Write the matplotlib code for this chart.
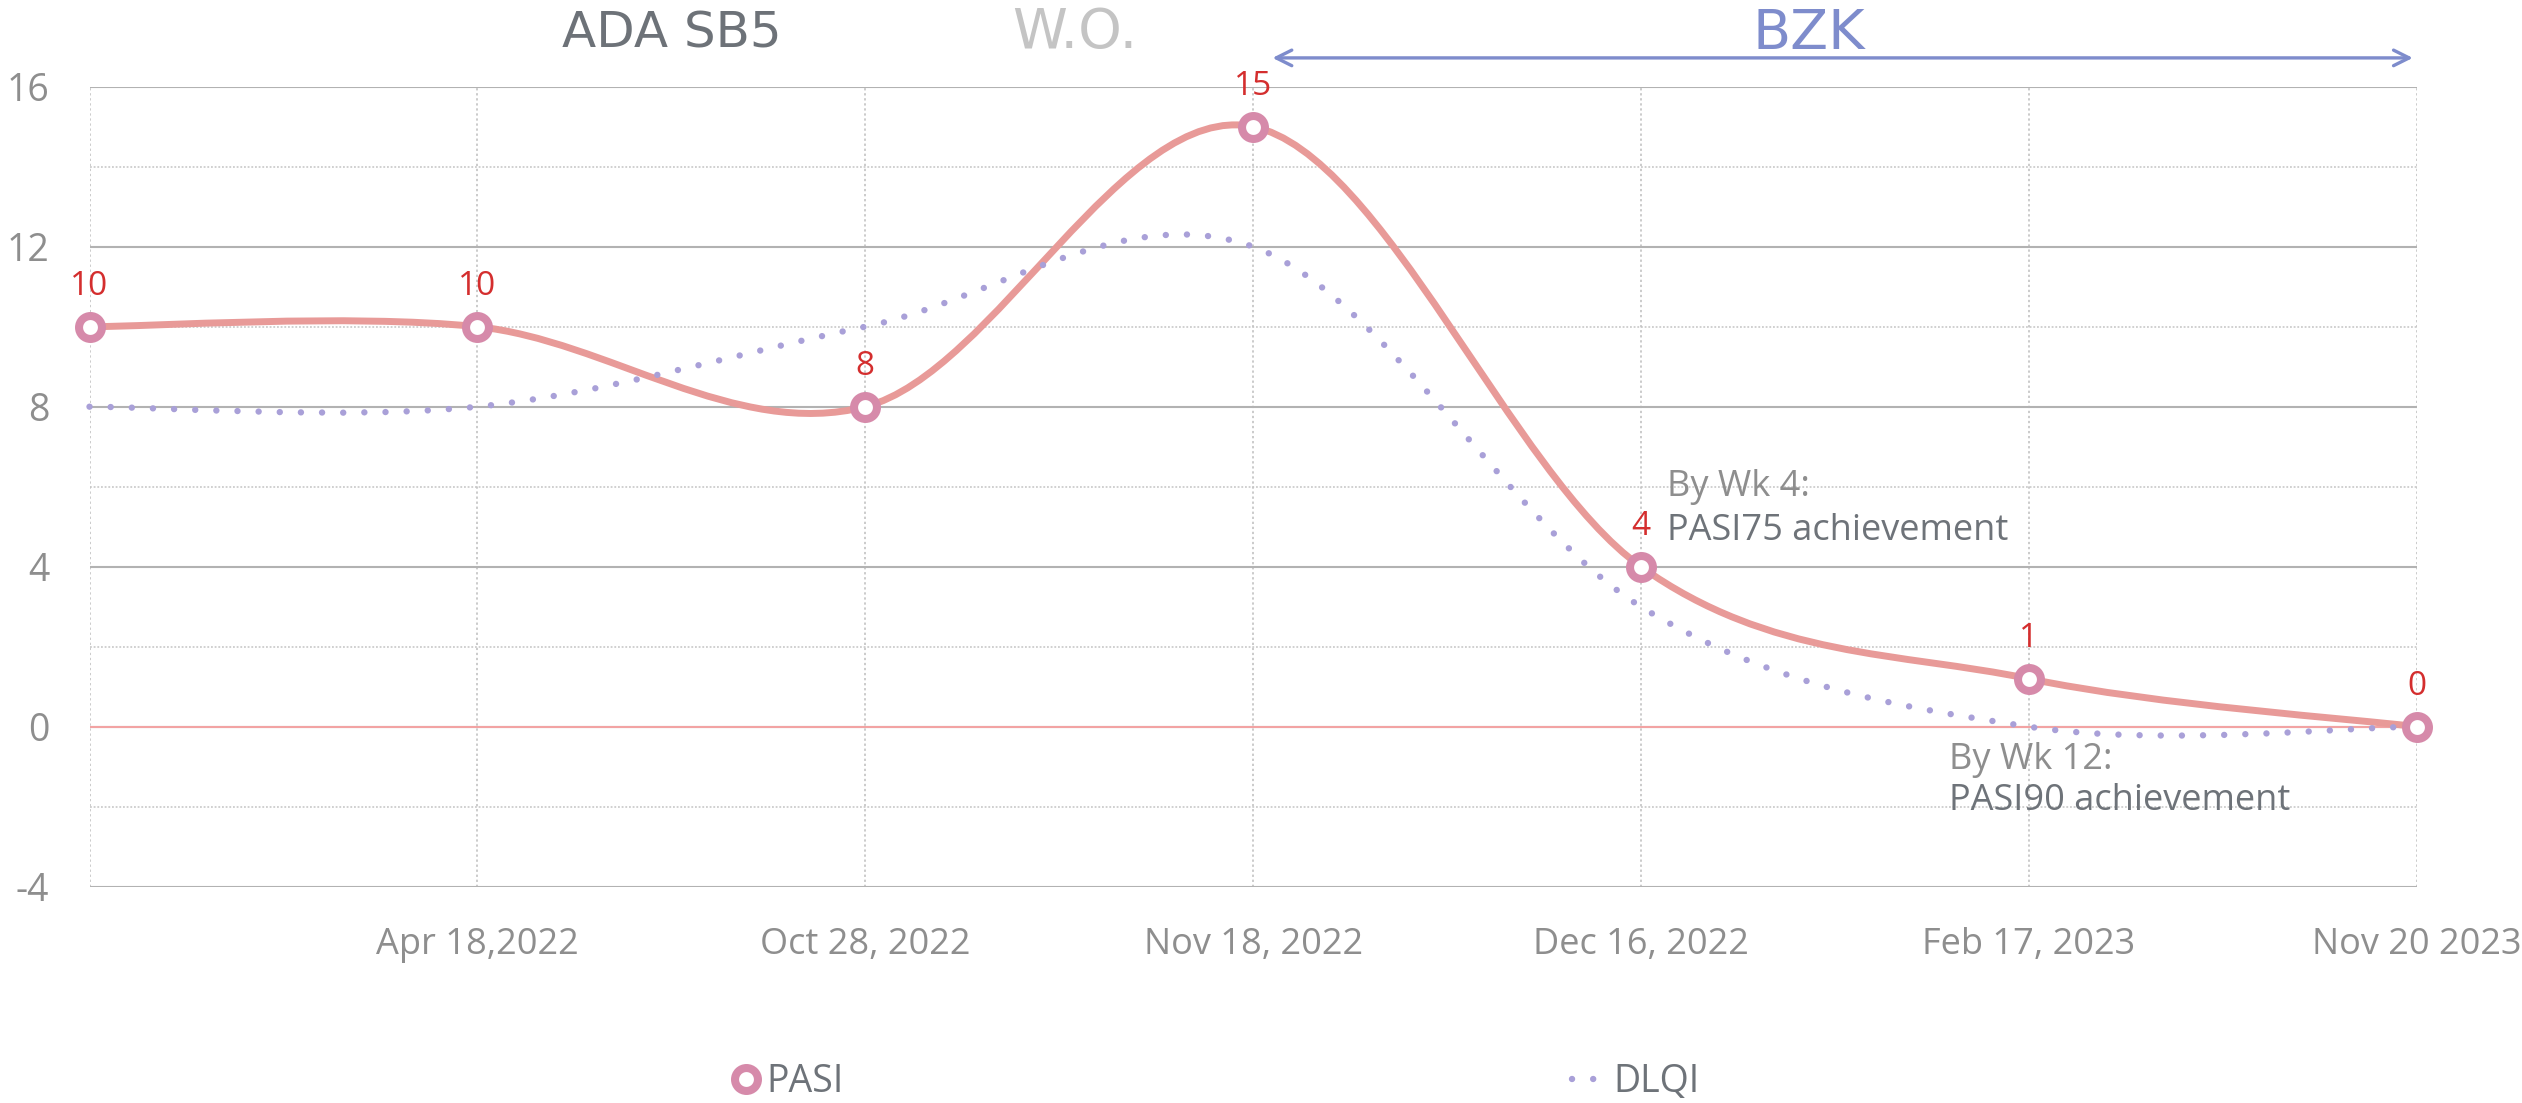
import numpy as np
import matplotlib
matplotlib.use("Agg")
import matplotlib.pyplot as plt
from matplotlib.path import Path
from matplotlib.patches import PathPatch
from matplotlib.lines import Line2D

# data
categories = ["", "Apr 18,2022", "Oct 28, 2022", "Nov 18, 2022",
              "Dec 16, 2022", "Feb 17, 2023", "Nov 20 2023"]
pasi = [10, 10, 8, 15, 4, 1.2, 0]
dlqi = [8, 8, 10, 12, 3, 0, 0]
y_ticks = [-4, 0, 4, 8, 12, 16]

plt.rcParams['font.family'] = ['Open Sans', 'DejaVu Sans']
plt.rcParams['axes.unicode_minus'] = False

grey_tick = '#8E8E8E'
pasi_line = '#E89A98'
pasi_mark = '#D68AAA'
dlqi_col = '#A9A0D8'
red_lbl = '#D42E2E'
bzk_col = '#7E8CCC'


def smooth_path(xs, ys):
    # Excel-style smoothed line (Catmull-Rom as cubic Bezier)
    pts = np.column_stack([xs, ys]).astype(float)
    n = len(pts)
    verts = [pts[0]]
    codes = [Path.MOVETO]
    for i in range(n - 1):
        p0 = pts[max(i - 1, 0)]
        p1 = pts[i]
        p2 = pts[i + 1]
        p3 = pts[min(i + 2, n - 1)]
        verts += [p1 + (p2 - p0) / 6, p2 - (p3 - p1) / 6, p2]
        codes += [Path.CURVE4] * 3
    return Path(verts, codes)


fig = plt.figure(figsize=(25.22, 11.03), dpi=100)
ax = fig.add_axes([89.5 / 2522, 1 - 886.7 / 1103, (2416.7 - 89.5) / 2522, (886.7 - 86.7) / 1103])

x = np.arange(len(categories))
ax.set_xlim(0, 6)
ax.set_ylim(-4, 16)

# grid
ax.set_yticks(y_ticks)
ax.set_yticks([-2, 2, 6, 10, 14], minor=True)
ax.set_xticks(x)
ax.set_xticklabels(categories)
ax.grid(which='major', axis='y', color='#B2B2B2', lw=1.5, ls='-')
ax.grid(which='minor', axis='y', color='#C4C4C4', lw=1.1, ls=(0, (1.2, 1.2)))
ax.grid(which='major', axis='x', color='#BDBDBD', lw=1.1, ls=(0, (1.5, 1.8)))
ax.axhline(0, color='#F2A3A3', lw=1.5, zorder=1.5)
for s in ax.spines.values():
    s.set_visible(False)
ax.tick_params(which='both', length=0)
ax.tick_params(axis='y', labelsize=27, labelcolor=grey_tick, pad=29)
ax.tick_params(axis='x', labelsize=26, labelcolor=grey_tick, pad=29)
ax.set_axisbelow(True)

# PASI
ax.add_patch(PathPatch(smooth_path(x, pasi), fill=False, edgecolor=pasi_line,
                       lw=5, capstyle='round', joinstyle='round', zorder=3, clip_on=False))
# DLQI
ax.add_patch(PathPatch(smooth_path(x, dlqi), fill=False, edgecolor=dlqi_col,
                       lw=4.6, ls=(0, (0.01, 3.3)), capstyle='round', zorder=3.5, clip_on=False))
ax.plot(x, pasi, ls='none', marker='o', ms=16.5, mew=5.8, mfc='white', mec=pasi_mark,
        zorder=4, clip_on=False)

for xi, v in zip(x, pasi):
    ax.annotate(f"{v:.0f}", (xi, v), xytext=(0, 29), textcoords='offset points',
                ha='center', va='center', fontsize=24, color=red_lbl, zorder=5)

# notes
ax.text(4.066, 5.99, "By Wk 4:", fontsize=26, color='#8E8E8E', ha='left', va='center')
ax.text(4.066, 4.89, "PASI75 achievement", fontsize=26, color='#6E7379', ha='left', va='center')
ax.text(4.793, -0.83, "By Wk 12:", fontsize=26, color='#8E8E8E', ha='left', va='center')
ax.text(4.793, -1.87, "PASI90 achievement", fontsize=26, color='#6E7379', ha='left', va='center')

# phase headers
fig.text(672 / 2522, 1 - 47 / 1103, "ADA SB5", fontsize=36, color='#6D7278',
         ha='center', va='baseline', family='DejaVu Sans')
fig.text(1075 / 2522, 1 - 48 / 1103, "W.O.", fontsize=40, color='#C4C4C4',
         ha='center', va='baseline', family='DejaVu Sans')
fig.text(1809 / 2522, 1 - 49 / 1103, "BZK", fontsize=40, color=bzk_col,
         ha='center', va='baseline', family='DejaVu Sans')
ax.annotate("", xy=(3.05, 16.72), xytext=(5.99, 16.72), xycoords='data',
            arrowprops=dict(arrowstyle='<->', color=bzk_col, lw=2.4,
                            mutation_scale=28, shrinkA=0, shrinkB=0),
            annotation_clip=False)

# legend
h_pasi = Line2D([], [], ls='none', marker='o', ms=16.5, mew=5.8, mfc='white', mec=pasi_mark)
h_dlqi = Line2D([], [], color=dlqi_col, lw=4.6, ls=(0, (0.01, 3.3)), dash_capstyle='round')
leg_y = 1 - 1082 / 1103
fig.legend([h_pasi], ["PASI"], loc='center left', bbox_to_anchor=(731 / 2522, leg_y),
           frameon=False, fontsize=27, handlelength=0.8, handletextpad=0.15,
           borderpad=0, borderaxespad=0, labelcolor='#6E7379')
fig.legend([h_dlqi], ["DLQI"], loc='center left', bbox_to_anchor=(1572 / 2522, leg_y),
           frameon=False, fontsize=27, handlelength=0.8, handletextpad=0.3,
           borderpad=0, borderaxespad=0, labelcolor='#6E7379')

fig.savefig("out.png", dpi=100)
